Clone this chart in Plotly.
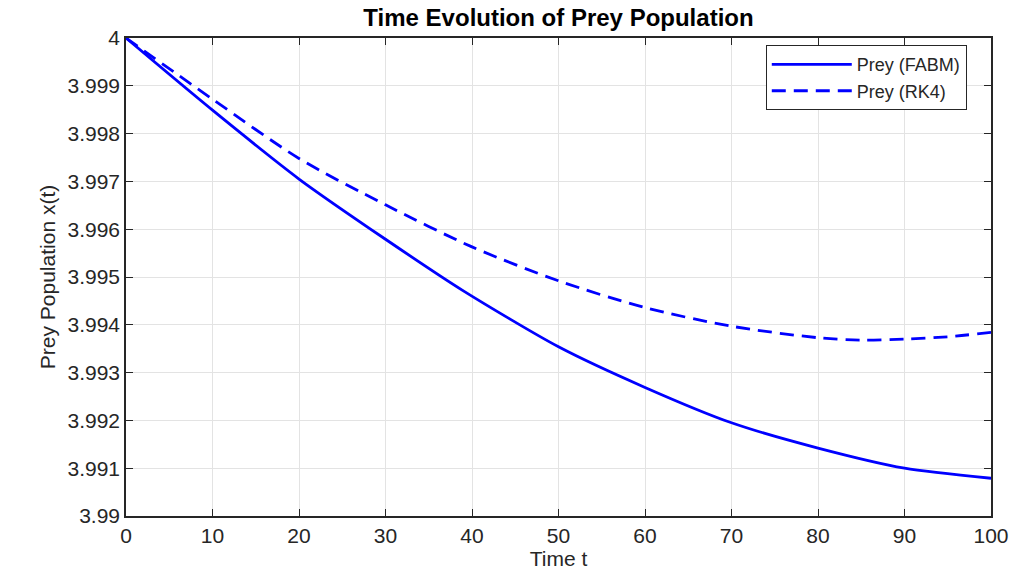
import plotly.graph_objects as go

t_fabm = [0, 10, 20, 30, 39, 50, 60, 70, 80, 90, 100]
x_fabm = [4.0, 3.99849, 3.99705, 3.99579, 3.99471, 3.99354, 3.99269, 3.99195, 3.99142, 3.99100, 3.99079]

t_rk4 = [0, 10, 20, 30, 40, 50, 60, 70, 80, 85, 90, 95, 100]
x_rk4 = [4.0, 3.99872, 3.99748, 3.99651, 3.99563, 3.99492, 3.99436, 3.99397, 3.99373, 3.99368, 3.99370, 3.99375, 3.99384]

x_ticks = [0, 10, 20, 30, 40, 50, 60, 70, 80, 90, 100]
y_ticks = [3.99, 3.991, 3.992, 3.993, 3.994, 3.995, 3.996, 3.997, 3.998, 3.999, 4.0]
y_tick_labels = ["3.99", "3.991", "3.992", "3.993", "3.994", "3.995", "3.996", "3.997", "3.998", "3.999", "4"]

font = "Liberation Sans, Arial, sans-serif"
axcol = "#262626"

fig = go.Figure()
fig.add_trace(go.Scatter(x=t_fabm, y=x_fabm, mode="lines", name="Prey (FABM)",
                         line=dict(color="#0000FF", width=2.8, shape="spline", smoothing=0.7)))
fig.add_trace(go.Scatter(x=t_rk4, y=x_rk4, mode="lines", name="Prey (RK4)",
                         line=dict(color="#0000FF", width=2.8, dash="14px,8px", shape="spline", smoothing=0.8)))

fig.update_layout(
    width=1015, height=574,
    margin=dict(l=126, r=24, t=38, b=58, autoexpand=False),
    paper_bgcolor="white", plot_bgcolor="white",
    title=dict(text="<b>Time Evolution of Prey Population</b>", x=(126 + 991) / 2 / 1015, xanchor="center",
               y=1 - 18 / 574, yanchor="middle", font=dict(family=font, size=24, color="black")),
    font=dict(family=font, color=axcol),
    showlegend=True,
    legend=dict(x=0.972, y=0.985, xanchor="right", yanchor="top", bgcolor="white",
                bordercolor=axcol, borderwidth=1, font=dict(size=18, color=axcol),
                tracegroupgap=0, itemwidth=80),
)
fig.update_xaxes(range=[0, 100], tickvals=x_ticks, showgrid=True, gridcolor="#e3e3e3", gridwidth=1,
                 showline=True, linecolor=axcol, linewidth=1.5, mirror="ticks", ticks="inside",
                 ticklen=7, tickcolor=axcol, zeroline=False, automargin=False,
                 tickfont=dict(size=21, color=axcol),
                 title=dict(text="Time t", font=dict(size=21, color=axcol), standoff=2))
fig.update_yaxes(range=[3.99, 4.0], tickvals=y_ticks, ticktext=y_tick_labels, showgrid=True,
                 gridcolor="#e3e3e3", gridwidth=1, showline=True, linecolor=axcol, linewidth=1.5,
                 mirror="ticks", ticks="inside", ticklen=7, tickcolor=axcol, zeroline=False,
                 automargin=False, tickfont=dict(size=21, color=axcol),
                 title=dict(text="Prey Population x(t)", font=dict(size=21, color=axcol), standoff=6))

fig.write_html("out.html", config={"displayModeBar": False},
               post_script="document.body.style.margin='0';document.body.style.overflow='hidden';")
